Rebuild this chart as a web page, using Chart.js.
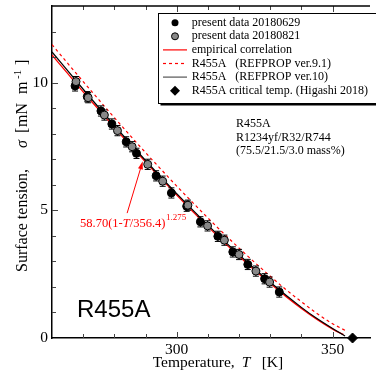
<!DOCTYPE html>
<html>
<head>
<meta charset="utf-8">
<script src="https://cdn.jsdelivr.net/npm/chart.js@4/dist/chart.umd.min.js"></script>
<style>
  html, body { margin: 0; padding: 0; background: #fff; }
</style>
</head>
<body>
<canvas id="grafico" width="376" height="374"></canvas>
<script>
// curvas
const tempCorr = [260, 265, 270, 275, 280, 285, 290, 295, 300, 305, 310, 315, 320, 325, 330, 335, 340, 345, 350, 353.5];
const sigmaCorr = [11.08, 10.36, 9.64, 8.94, 8.24, 7.56, 6.89, 6.24, 5.60, 4.97, 4.36, 3.77, 3.20, 2.65, 2.13, 1.63, 1.16, 0.73, 0.35, 0.13];

const tempRp91 = [260, 265, 270, 275, 280, 285, 290, 295, 300, 305, 310, 315, 320, 325, 330, 335, 340, 345, 350, 354];
const sigmaRp91 = [11.49, 10.76, 10.04, 9.33, 8.63, 7.94, 7.26, 6.60, 5.95, 5.32, 4.70, 4.10, 3.52, 2.96, 2.42, 1.90, 1.42, 0.96, 0.56, 0.30];

const tempRp10 = [260, 270, 280, 290, 300, 310, 320, 330, 340, 345, 350, 354];
const sigmaRp10 = [11.20, 9.74, 8.32, 6.95, 5.65, 4.42, 3.26, 2.18, 1.20, 0.76, 0.37, 0.08];

// datos medidos
const tempData1 = [267.4, 271.3, 275.7, 279.2, 283.8, 287.1, 293.4, 298.3, 303.2, 307.6, 313.2, 318.0, 322.8, 328.2, 332.9];
const sigmaData1 = [9.87, 9.45, 8.89, 8.38, 7.68, 7.23, 6.35, 5.68, 5.16, 4.55, 3.98, 3.37, 2.88, 2.32, 1.80];

const tempData2 = [267.7, 271.6, 276.8, 281.0, 285.7, 290.7, 295.5, 303.6, 309.9, 315.3, 320.0, 325.4, 329.8];
const sigmaData2 = [10.04, 9.41, 8.73, 8.12, 7.49, 6.80, 6.14, 5.20, 4.39, 3.83, 3.27, 2.62, 2.19];

const errorData = 0.2;

const tempCrit = [356.4];
const sigmaCrit = [0];

const etiquetasLeyenda = [
    'present data 20180629',
    'present data 20180821',
    'empirical correlation',
    'R455A   (REFPROP ver.9.1)',
    'R455A   (REFPROP ver.10)',
    'R455A critical temp. (Higashi 2018)'
];

const serif = '"Liberation Serif", "Times New Roman", serif';

function puntos(xs, ys) {
    return xs.map((x, i) => ({ x: x, y: ys[i] }));
}

const barrasError = {
    id: 'barrasError',
    beforeDatasetDraw(chart, args) {
        if (args.index !== 3 && args.index !== 4) return;
        const { ctx, scales: { x, y } } = chart;
        const ds = chart.data.datasets[args.index];
        ctx.save();
        ctx.strokeStyle = '#000';
        ctx.lineWidth = 1;
        ds.data.forEach(p => {
            const px = x.getPixelForValue(p.x);
            const y1 = y.getPixelForValue(p.y - errorData);
            const y2 = y.getPixelForValue(p.y + errorData);
            ctx.beginPath();
            ctx.moveTo(px, y1); ctx.lineTo(px, y2);
            ctx.moveTo(px - 3, y1); ctx.lineTo(px + 3, y1);
            ctx.moveTo(px - 3, y2); ctx.lineTo(px + 3, y2);
            ctx.stroke();
        });
        ctx.restore();
    }
};

const marcasEjes = {
    id: 'marcasEjes',
    afterDraw(chart) {
        const { ctx, chartArea: a, scales: { x, y } } = chart;
        ctx.save();
        ctx.strokeStyle = '#444';
        ctx.lineWidth = 1;
        x.ticks.forEach(t => {
            if (t.value <= x.min || t.value >= x.max) return;
            const px = Math.round(x.getPixelForValue(t.value)) + 0.5;
            const len = t.value % 50 === 0 ? 6 : 4;
            ctx.beginPath();
            ctx.moveTo(px, a.bottom); ctx.lineTo(px, a.bottom - len);
            ctx.moveTo(px, a.top); ctx.lineTo(px, a.top + len);
            ctx.stroke();
        });
        y.ticks.forEach(t => {
            if (t.value <= y.min || t.value >= y.max) return;
            const py = Math.round(y.getPixelForValue(t.value)) + 0.5;
            const len = t.value % 5 === 0 ? 6 : 4;
            ctx.beginPath();
            ctx.moveTo(a.left, py); ctx.lineTo(a.left + len, py);
            ctx.stroke();
        });
        ctx.strokeStyle = '#000';
        ctx.lineWidth = 1.3;
        ctx.beginPath();
        ctx.moveTo(a.left, a.top); ctx.lineTo(a.right, a.top);
        ctx.stroke();

        // titulos de ejes
        ctx.fillStyle = '#000';
        ctx.textBaseline = 'middle';
        ctx.textAlign = 'left';
        ctx.font = '15.5px ' + serif;
        ctx.fillText('Temperature,', 152.7, 363);
        ctx.font = 'italic 15.5px ' + serif;
        ctx.fillText('T', 241.7, 363);
        ctx.font = '15.5px ' + serif;
        ctx.fillText('[K]', 261.7, 363);

        ctx.save();
        ctx.translate(23, 272);
        ctx.rotate(-Math.PI / 2);
        ctx.font = '16px ' + serif;
        ctx.fillText('Surface tension,', 0, 0);
        ctx.fillText('[', 139, 0);
        ctx.fillText('mN', 145, 0);
        ctx.fillText('m', 178, 0);
        ctx.fillText(']', 207, 0);
        ctx.font = 'italic 16px ' + serif;
        ctx.fillText('σ', 124, 0);
        ctx.font = '11px ' + serif;
        ctx.fillText('-1', 193, -5);
        ctx.restore();

        // textos
        ctx.font = '12px ' + serif;
        ctx.fillText('R455A', 236, 124);
        ctx.fillText('R1234yf/R32/R744', 236, 137.5);
        ctx.fillText('(75.5/21.5/3.0 mass%)', 236, 151);

        ctx.font = '24px "Liberation Sans", Arial, sans-serif';
        ctx.textBaseline = 'alphabetic';
        ctx.fillText('R455A', 77, 317);

        // correlacion y flecha
        ctx.fillStyle = '#ff0000';
        ctx.strokeStyle = '#ff0000';
        ctx.textBaseline = 'middle';
        let fx = 80;
        ctx.font = '12.5px ' + serif;
        ctx.fillText('58.70(1-', fx, 223.5);
        fx += ctx.measureText('58.70(1-').width;
        ctx.font = 'italic 12.5px ' + serif;
        ctx.fillText('T', fx, 223.5);
        fx += ctx.measureText('T').width;
        ctx.font = '12.5px ' + serif;
        ctx.fillText('/356.4)', fx, 223.5);
        fx += ctx.measureText('/356.4)').width;
        ctx.font = '9px ' + serif;
        ctx.fillText('1.275', fx + 0.5, 218);

        const x0 = x.getPixelForValue(284.1), y0 = y.getPixelForValue(4.89);
        const x1 = x.getPixelForValue(289.1), y1 = y.getPixelForValue(6.92);
        const ang = Math.atan2(y1 - y0, x1 - x0);
        ctx.lineWidth = 1;
        ctx.beginPath();
        ctx.moveTo(x0, y0); ctx.lineTo(x1 - 6 * Math.cos(ang), y1 - 6 * Math.sin(ang));
        ctx.stroke();
        ctx.beginPath();
        ctx.moveTo(x1, y1);
        ctx.lineTo(x1 - 8 * Math.cos(ang) + 2.5 * Math.sin(ang), y1 - 8 * Math.sin(ang) - 2.5 * Math.cos(ang));
        ctx.lineTo(x1 - 8 * Math.cos(ang) - 2.5 * Math.sin(ang), y1 - 8 * Math.sin(ang) + 2.5 * Math.cos(ang));
        ctx.closePath();
        ctx.fill();
        ctx.restore();
    }
};

const leyenda = {
    id: 'leyenda',
    afterDraw(chart) {
        const { ctx } = chart;
        const left = 158.5, top = 13.5, right = 382, bottom = 103.5;
        ctx.save();
        ctx.fillStyle = '#000';
        ctx.fillRect(left + 2, top + 2, right - left, bottom - top);
        ctx.fillStyle = '#fff';
        ctx.fillRect(left, top, right - left, bottom - top);
        ctx.strokeStyle = '#000';
        ctx.lineWidth = 1;
        ctx.strokeRect(left, top, right - left, bottom - top);

        const sx = 175, l0 = 163, l1 = 187;
        etiquetasLeyenda.forEach((txt, i) => {
            const ry = 22.7 + i * 13.6;
            ctx.save();
            if (i === 0) {
                ctx.fillStyle = '#000';
                ctx.beginPath(); ctx.arc(sx, ry, 3.5, 0, Math.PI * 2); ctx.fill();
            } else if (i === 1) {
                ctx.fillStyle = '#888';
                ctx.strokeStyle = '#000';
                ctx.beginPath(); ctx.arc(sx, ry, 3.5, 0, Math.PI * 2); ctx.fill(); ctx.stroke();
            } else if (i === 5) {
                ctx.fillStyle = '#000';
                ctx.beginPath();
                ctx.moveTo(sx, ry - 5); ctx.lineTo(sx + 5, ry); ctx.lineTo(sx, ry + 5); ctx.lineTo(sx - 5, ry);
                ctx.closePath(); ctx.fill();
            } else {
                ctx.strokeStyle = i === 4 ? '#555' : '#ff0000';
                ctx.lineWidth = 1.2;
                if (i === 3) ctx.setLineDash([3, 3]);
                ctx.beginPath(); ctx.moveTo(l0, ry); ctx.lineTo(l1, ry); ctx.stroke();
            }
            ctx.restore();
            ctx.fillStyle = '#000';
            ctx.font = '12px ' + serif;
            ctx.textBaseline = 'middle';
            ctx.fillText(txt, 191.7, ry);
        });
        ctx.restore();
    }
};

function sinRelleno(s) {
    s.paddingLeft = 0;
    s.paddingRight = 0;
    s.paddingTop = 0;
    s.paddingBottom = 0;
}

new Chart(document.getElementById('grafico'), {
    type: 'scatter',
    data: {
        datasets: [
            {
                label: 'empirical correlation',
                type: 'line',
                data: puntos(tempCorr, sigmaCorr),
                borderColor: '#ff0000',
                borderWidth: 1.3,
                pointRadius: 0,
                cubicInterpolationMode: 'monotone',
                order: 4
            },
            {
                label: 'R455A (REFPROP ver.9.1)',
                type: 'line',
                data: puntos(tempRp91, sigmaRp91),
                borderColor: '#ff0000',
                borderWidth: 1.2,
                borderDash: [3, 3],
                pointRadius: 0,
                cubicInterpolationMode: 'monotone',
                order: 5
            },
            {
                label: 'R455A (REFPROP ver.10)',
                type: 'line',
                data: puntos(tempRp10, sigmaRp10),
                borderColor: '#000',
                borderWidth: 1.2,
                pointRadius: 0,
                cubicInterpolationMode: 'monotone',
                order: 3
            },
            {
                label: 'present data 20180629',
                data: puntos(tempData1, sigmaData1),
                backgroundColor: '#000',
                borderColor: '#000',
                pointRadius: 4,
                order: 2
            },
            {
                label: 'present data 20180821',
                data: puntos(tempData2, sigmaData2),
                backgroundColor: '#888',
                borderColor: '#000',
                borderWidth: 1,
                pointRadius: 4,
                order: 1
            },
            {
                label: 'R455A critical temp. (Higashi 2018)',
                data: puntos(tempCrit, sigmaCrit),
                backgroundColor: '#000',
                borderColor: '#000',
                pointStyle: 'rectRot',
                pointRadius: 5,
                clip: false,
                order: 0
            }
        ]
    },
    options: {
        responsive: false,
        animation: false,
        devicePixelRatio: 1,
        layout: { padding: { top: 6, right: 0, left: 0, bottom: 0 } },
        plugins: {
            legend: { display: false },
            tooltip: { enabled: false }
        },
        scales: {
            x: {
                type: 'linear',
                min: 260,
                max: 362,
                grid: { display: false, drawTicks: false },
                border: { display: true, color: '#000', width: 1.5 },
                ticks: {
                    stepSize: 10,
                    autoSkip: false,
                    maxRotation: 0,
                    padding: 3,
                    color: '#000',
                    font: { family: serif, size: 15.5 },
                    callback: v => (v % 50 === 0 ? v : '')
                },
                afterFit: s => { s.height = 36; sinRelleno(s); }
            },
            y: {
                type: 'linear',
                min: 0,
                max: 13,
                grid: { display: false, drawTicks: false },
                border: { display: true, color: '#000', width: 1.5 },
                ticks: {
                    stepSize: 1,
                    autoSkip: false,
                    padding: 4,
                    color: '#000',
                    font: { family: serif, size: 15.5 },
                    callback: v => (v % 5 === 0 ? v : '')
                },
                afterFit: s => { s.width = 52; sinRelleno(s); }
            }
        }
    },
    plugins: [barrasError, marcasEjes, leyenda]
});
</script>
</body>
</html>
